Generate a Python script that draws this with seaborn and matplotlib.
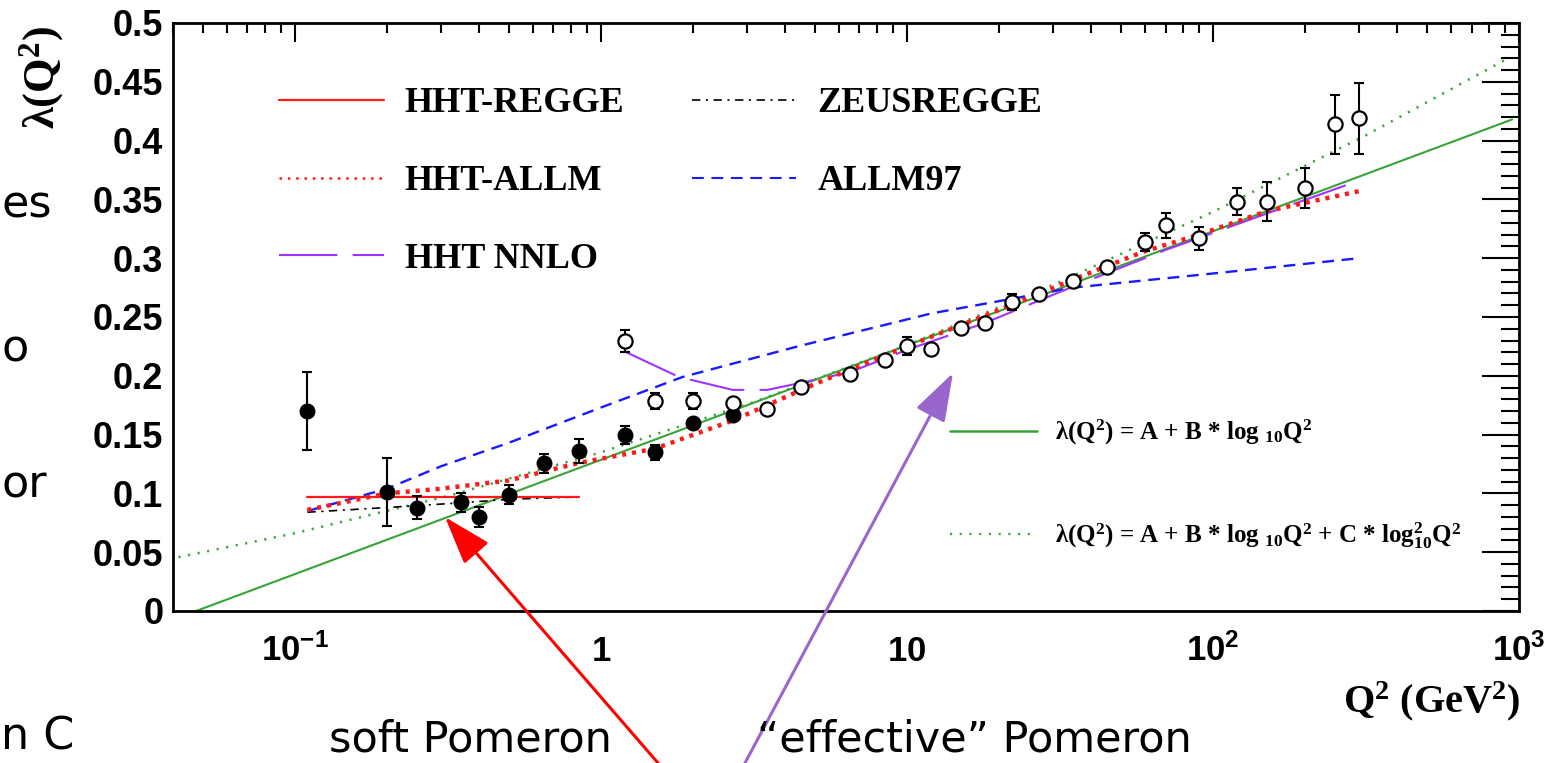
import matplotlib
matplotlib.use("Agg")
import matplotlib.pyplot as plt
from matplotlib.lines import Line2D
from matplotlib.ticker import FixedLocator, FixedFormatter, LogLocator, MultipleLocator, NullFormatter
import seaborn as sns

sns.set_style("white")
plt.rcParams.update({
    "mathtext.fontset": "custom",
    "mathtext.rm": "Liberation Serif:bold",
    "mathtext.it": "Liberation Serif:bold",
    "mathtext.bf": "Liberation Serif:bold",
    "mathtext.sf": "Liberation Sans:bold",
    "lines.scale_dashes": False,
    "axes.linewidth": 2.0,
    "text.color": "black",
    "axes.labelcolor": "black",
    "xtick.color": "black",
    "ytick.color": "black",
    "legend.labelcolor": "black",
})

# ---- measured lambda(Q^2) values -------------------------------------------
q2_filled = [0.11, 0.2, 0.25, 0.35, 0.4, 0.5, 0.65, 0.85, 1.2, 1.5, 2.0, 2.7]
lam_filled = [0.170, 0.1015, 0.088, 0.0925, 0.080, 0.099, 0.1255, 0.136, 0.1495, 0.135, 0.160, 0.167]
err_filled = [0.033, 0.029, 0.0095, 0.008, 0.0088, 0.0081, 0.0082, 0.0102, 0.0074, 0.0065, 0.0, 0.0]

q2_open = [1.2, 1.5, 2.0, 2.7, 3.5, 4.5, 6.5, 8.5, 10, 12, 15, 18, 22, 27, 35, 45,
           60, 70, 90, 120, 150, 200, 250, 300]
lam_open = [0.2296, 0.1788, 0.1788, 0.1766, 0.1715, 0.1907, 0.2015, 0.2134, 0.2256, 0.2228,
            0.241, 0.2446, 0.2625, 0.2696, 0.281, 0.2928, 0.314, 0.328, 0.317, 0.348,
            0.348, 0.360, 0.4138, 0.419]
err_open = [0.009, 0.0068, 0.0068, 0.0, 0.0, 0.0, 0.0, 0.0, 0.0075, 0.0, 0.0, 0.0, 0.0068, 0.0,
            0.0, 0.0, 0.0075, 0.0105, 0.0098, 0.0113, 0.0167, 0.017, 0.025, 0.0304]

# ---- model curves -------------------------------------------------------------
regge_q2 = [0.11, 0.85]
regge_lam = [0.0972, 0.0972]

zeus_q2 = [0.11, 0.2, 0.35, 0.5, 0.85]
zeus_lam = [0.084, 0.088, 0.092, 0.095, 0.097]

allm_q2 = [0.11, 0.2, 0.3, 0.5, 0.85, 1.5, 2.7, 5, 10, 20, 40, 60, 90, 150, 300]
allm_lam = [0.086, 0.100, 0.104, 0.111, 0.126, 0.138, 0.162, 0.193, 0.225, 0.256, 0.288,
            0.306, 0.320, 0.340, 0.357]

allm97_q2 = [0.11, 0.2, 0.3, 0.5, 1.0, 1.85, 4.4, 12, 35, 100, 300]
allm97_lam = [0.085, 0.104, 0.123, 0.143, 0.173, 0.199, 0.225, 0.253, 0.275, 0.287, 0.300]

nnlo_q2 = [1.2, 1.8, 2.7, 3.5, 4.5, 6.5, 10, 18, 35, 70, 150, 300]
nnlo_lam = [0.2205, 0.199, 0.188, 0.188, 0.194, 0.203, 0.222, 0.245, 0.276, 0.307, 0.338, 0.366]

# linear fit in log10 Q^2 (straight on the log axis)
lin_q2 = [0.0476, 950]
lin_lam = [0.0, 0.418]

# quadratic fit in log10 Q^2
quad_q2 = [0.0417, 0.1, 0.316, 1.0, 3.16, 10, 31.6, 100, 316, 933]
quad_lam = [0.0458, 0.0661, 0.0977, 0.1349, 0.1777, 0.226, 0.2799, 0.3394, 0.4045, 0.4708]

# ---- axis labels / ticks -------------------------------------------------
xtick_vals = [0.1, 1, 10, 100, 1000]
xtick_labels = [r"$\mathsf{10^{-1}}$", r"$\mathsf{1}$", r"$\mathsf{10}$",
                r"$\mathsf{10^{2}}$", r"$\mathsf{10^{3}}$"]
ytick_vals = [0, 0.05, 0.1, 0.15, 0.2, 0.25, 0.3, 0.35, 0.4, 0.45, 0.5]
ytick_labels = ["0", "0.05", "0.1", "0.15", "0.2", "0.25", "0.3", "0.35", "0.4", "0.45", "0.5"]

W, H = 1547, 763
fig = plt.figure(figsize=(W / 100, H / 100), dpi=100)
ax = fig.add_axes([173 / W, 152 / H, 1346 / W, 588 / H])
ax.set_xscale("log")
ax.set_xlim(0.04, 1000)
ax.set_ylim(0, 0.5)

RED = "#ff1a1a"
BLUE = "#1a1aff"
PURPLE = "#a033ff"
GREEN = "#36a336"

line_kw = dict(ax=ax, legend=False, sort=False, estimator=None)
sns.lineplot(x=lin_q2, y=lin_lam, color=GREEN, linewidth=1.5, zorder=2, **line_kw)
sns.lineplot(x=quad_q2, y=quad_lam, color=GREEN, linewidth=1.8, linestyle=(0, (1.5, 5.5)),
             zorder=2, **line_kw)
sns.lineplot(x=allm97_q2, y=allm97_lam, color=BLUE, linewidth=1.7, linestyle=(0, (8.5, 5.5)),
             zorder=2, **line_kw)
sns.lineplot(x=zeus_q2, y=zeus_lam, color="black", linewidth=1.2,
             linestyle=(0, (6, 4, 1.5, 4)), zorder=2, **line_kw)
sns.lineplot(x=regge_q2, y=regge_lam, color=RED, linewidth=1.6, zorder=2, **line_kw)
sns.lineplot(x=nnlo_q2, y=nnlo_lam, color=PURPLE, linewidth=1.5, linestyle=(0, (40, 11)),
             zorder=2, **line_kw)
sns.lineplot(x=allm_q2, y=allm_lam, color=RED, linewidth=3.2, linestyle=(0, (2.9, 4.3)),
             zorder=2.5, **line_kw)

# error bars below the markers
ax.errorbar(q2_filled, lam_filled, yerr=err_filled, fmt="none", ecolor="black",
            elinewidth=1.5, capsize=3.4, capthick=1.5, zorder=3)
ax.errorbar(q2_open, lam_open, yerr=err_open, fmt="none", ecolor="black",
            elinewidth=1.5, capsize=3.4, capthick=1.5, zorder=3)
sns.scatterplot(x=q2_filled, y=lam_filled, ax=ax, color="black", edgecolor="black",
                s=110, linewidth=1.0, marker="o", zorder=4, legend=False)
sns.scatterplot(x=q2_open, y=lam_open, ax=ax, color="white", edgecolor="black",
                s=105, linewidth=1.6, marker="o", zorder=4, legend=False)

# ---- ticks and frame -------------------------------------------------------
ax.xaxis.set_major_locator(FixedLocator(xtick_vals))
ax.xaxis.set_major_formatter(FixedFormatter(xtick_labels))
ax.xaxis.set_minor_locator(LogLocator(base=10, subs=range(2, 10), numticks=20))
ax.xaxis.set_minor_formatter(NullFormatter())
ax.yaxis.set_major_locator(FixedLocator(ytick_vals))
ax.yaxis.set_major_formatter(FixedFormatter(ytick_labels))
ax.yaxis.set_minor_locator(MultipleLocator(0.01))
ax.tick_params(which="both", direction="in", top=True, right=True, width=1.5, color="black")
ax.tick_params(axis="y", which="major", length=27, pad=7, labelsize=26)
ax.tick_params(axis="y", which="minor", length=13)
ax.tick_params(axis="x", which="major", length=13.5, pad=36, labelsize=25)
ax.tick_params(axis="x", which="minor", length=7)
for lab in ax.get_yticklabels() + ax.get_xticklabels():
    lab.set_fontfamily("Liberation Sans")
    lab.set_fontweight("bold")
    lab.set_color("black")
for lab in ax.get_xticklabels():
    lab.set_verticalalignment("baseline")
for s in ax.spines.values():
    s.set_color("black")
    s.set_linewidth(2.0)

# axis titles
fig.text(42 / W, 1 - 78 / H, r"λ(Q$^2$)", rotation=90, ha="center", va="center",
         fontsize=32, fontfamily="Liberation Serif", fontweight="bold")
fig.text(1520 / W, 1 - 701 / H, r"Q$^2$ (GeV$^2$)", ha="right", va="center",
         fontsize=29, fontfamily="Liberation Serif", fontweight="bold")

# ---- legends -----------------------------------------------------------------
h_regge = Line2D([], [], color=RED, lw=1.6)
h_allm = Line2D([], [], color=RED, lw=1.8, linestyle=(0, (1.8, 4.2)))
h_nnlo = Line2D([], [], color=PURPLE, lw=1.5, linestyle=(0, (42, 11)))
h_zeus = Line2D([], [], color="black", lw=1.2, linestyle=(0, (6, 4, 1.5, 4)))
h_allm97 = Line2D([], [], color=BLUE, lw=1.5, linestyle=(0, (8.5, 5.5)))
leg1 = ax.legend([h_regge, h_allm, h_nnlo, h_zeus, h_allm97],
                 ["HHT-REGGE", "HHT-ALLM", "HHT NNLO", "ZEUSREGGE", "ALLM97"],
                 ncol=2, frameon=False, loc="upper left",
                 bbox_to_anchor=(279 / W, 1 - 87 / H), bbox_transform=fig.transFigure,
                 borderpad=0, borderaxespad=0, handlelength=2.9, handletextpad=0.58,
                 columnspacing=1.86, labelspacing=1.235,
                 prop={"family": "Liberation Serif", "weight": "bold", "size": 26})
ax.add_artist(leg1)

h_lin = Line2D([], [], color=GREEN, lw=1.8)
h_quad = Line2D([], [], color=GREEN, lw=1.6, linestyle=(0, (1.5, 5.5)))
ax.legend([h_lin, h_quad],
          [r"λ(Q$^2$) = A + B * log $_{10}$Q$^2$",
           r"λ(Q$^2$) = A + B * log $_{10}$Q$^2$ + C * log$^2_{10}$Q$^2$"],
          frameon=False, loc="upper left",
          bbox_to_anchor=(950 / W, 1 - 418 / H), bbox_transform=fig.transFigure,
          borderpad=0, borderaxespad=0, handlelength=3.48, handletextpad=0.72,
          labelspacing=2.92,
          prop={"family": "Liberation Serif", "weight": "bold", "size": 18})

# ---- annotations -----------------------------------------------------------
ax.annotate("", xy=(445 / W, 1 - 517 / H), xycoords="figure fraction",
            xytext=(671 / W, 1 - 778 / H), textcoords="figure fraction",
            annotation_clip=False, zorder=6,
            arrowprops=dict(arrowstyle="-|>,head_length=30,head_width=10", mutation_scale=1,
                            color="#ff0000", lw=2.2, shrinkA=0, shrinkB=0))
ax.annotate("", xy=(953 / W, 1 - 373 / H), xycoords="figure fraction",
            xytext=(737 / W, 1 - 778 / H), textcoords="figure fraction",
            annotation_clip=False, zorder=6,
            arrowprops=dict(arrowstyle="-|>,head_length=30,head_width=10", mutation_scale=1,
                            color="#9966cc", lw=2.2, shrinkA=0, shrinkB=0))

note_kw = dict(fontsize=31, fontfamily="DejaVu Sans", va="baseline", color="black")
fig.text(329 / W, 1 - 751 / H, "soft Pomeron", ha="left", **note_kw)
fig.text(757 / W, 1 - 751 / H, "\u201ceffective\u201d Pomeron", ha="left", **note_kw)

# slide text along the left border
side_kw = dict(fontsize=32, fontfamily="DejaVu Sans", va="baseline", ha="left", color="black")
fig.text(1 / W, 1 - 217 / H, "es", **side_kw)
fig.text(1 / W, 1 - 362 / H, "o", **side_kw)
fig.text(1 / W, 1 - 497 / H, "or", **side_kw)
fig.text(1 / W, 1 - 750 / H, "n C", **side_kw)

fig.savefig("out.png", dpi=100)
